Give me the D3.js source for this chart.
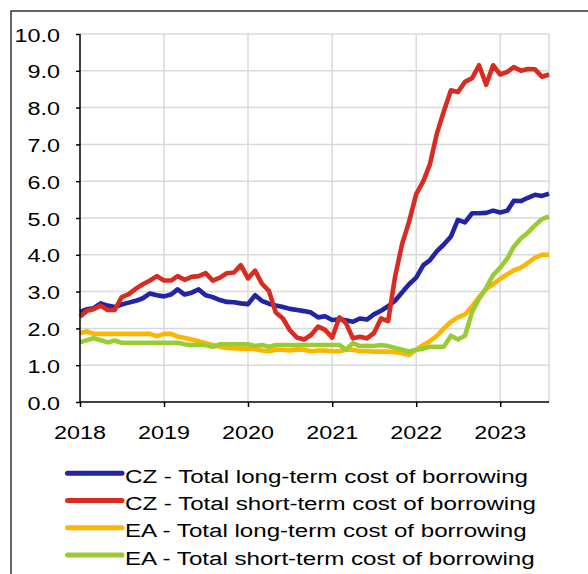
<!DOCTYPE html>
<html>
<head>
<meta charset="utf-8">
<script src="https://cdn.jsdelivr.net/npm/d3@7"></script>
<style>
  html, body { margin: 0; padding: 0; background: #fff; }
  svg { display: block; }
  text { font-family: "Liberation Sans", Arial, sans-serif; fill: #000; }
</style>
</head>
<body>
<svg id="chart" width="588" height="574"></svg>
<script>
// ---- data (monthly, Jan 2018 – Aug 2023) ----
const startMonth = new Date(2018, 0, 1);
const endMonth = new Date(2023, 7, 1);
const yearLabels = ["2018", "2019", "2020", "2021", "2022", "2023"];
const yTicks = [0, 1, 2, 3, 4, 5, 6, 7, 8, 9, 10];

const seriesNames = [
  "CZ - Total long-term cost of borrowing",
  "CZ - Total short-term cost of borrowing",
  "EA - Total long-term cost of borrowing",
  "EA - Total short-term cost of borrowing"
];
const seriesColors = ["#2323A6", "#D92B20", "#FFB400", "#99CC33"];

const czLong = [
  2.45, 2.52, 2.55, 2.68, 2.62, 2.58, 2.65, 2.7, 2.75, 2.82,
  2.95, 2.9, 2.87, 2.92, 3.06, 2.92, 2.97, 3.06, 2.9, 2.85,
  2.77, 2.72, 2.71, 2.68, 2.66, 2.9, 2.75, 2.67, 2.62, 2.58,
  2.53, 2.5, 2.47, 2.43, 2.3, 2.33, 2.23, 2.25, 2.22, 2.18,
  2.27, 2.24, 2.38, 2.48, 2.6, 2.75, 2.98, 3.2, 3.38, 3.72,
  3.85, 4.1, 4.28, 4.5, 4.95, 4.88, 5.13, 5.13, 5.14, 5.2,
  5.15, 5.2, 5.47, 5.46, 5.55, 5.63, 5.6, 5.66
];
const czShort = [
  2.32, 2.48, 2.52, 2.62, 2.5, 2.5, 2.85, 2.93, 3.08, 3.2,
  3.3, 3.42, 3.3, 3.3, 3.42, 3.32, 3.4, 3.42, 3.5, 3.3,
  3.38, 3.5, 3.52, 3.72, 3.36, 3.57, 3.22, 3.02, 2.43, 2.27,
  1.95, 1.75, 1.7, 1.82, 2.05, 1.96, 1.75, 2.3, 2.15, 1.73,
  1.77, 1.73, 1.87, 2.27, 2.2, 3.4, 4.3, 4.9, 5.65, 6.0,
  6.45, 7.3, 7.9, 8.47, 8.42, 8.7, 8.8, 9.15, 8.62, 9.15,
  8.9, 8.97, 9.1, 9.0, 9.05, 9.04, 8.84, 8.9
];
const eaLong = [
  1.87, 1.92, 1.85, 1.85, 1.85, 1.85, 1.85, 1.85, 1.85, 1.85,
  1.85, 1.79, 1.85, 1.85, 1.78, 1.74, 1.7, 1.65, 1.6, 1.55,
  1.5, 1.47, 1.46, 1.45, 1.45, 1.44, 1.4, 1.38, 1.42, 1.42,
  1.4, 1.43, 1.42, 1.38, 1.4, 1.4, 1.38, 1.38, 1.42, 1.42,
  1.38, 1.38, 1.37, 1.37, 1.37, 1.35, 1.33, 1.28, 1.42, 1.55,
  1.65, 1.8, 2.0, 2.18, 2.3, 2.38, 2.6, 2.85, 3.07, 3.2,
  3.35, 3.47, 3.58, 3.65, 3.78, 3.92, 4.0, 4.0
];
const eaShort = [
  1.62, 1.68, 1.73, 1.68, 1.62, 1.67, 1.61, 1.61, 1.61, 1.61,
  1.61, 1.61, 1.61, 1.61, 1.61, 1.57, 1.55, 1.55, 1.55, 1.5,
  1.57, 1.57, 1.57, 1.57, 1.57, 1.52, 1.55, 1.5, 1.55, 1.55,
  1.55, 1.55, 1.55, 1.55, 1.55, 1.55, 1.55, 1.55, 1.42, 1.6,
  1.52, 1.53, 1.52, 1.55, 1.52, 1.47, 1.42, 1.37, 1.42, 1.45,
  1.5, 1.5, 1.5, 1.8, 1.7, 1.8, 2.45, 2.8, 3.1, 3.45,
  3.65, 3.9, 4.22, 4.45, 4.6, 4.8, 4.97, 5.04
];

const allSeries = [czLong, czShort, eaLong, eaShort];
const months = d3.timeMonth.range(startMonth, d3.timeMonth.offset(endMonth, 1));

// ---- layout ----
const svg = d3.select("#chart");
const plot = { left: 80, right: 549, top: 34, bottom: 402 };
const fontSize = 18.7, sx = 1.25;
const legendFont = 19, legendSx = 1.27;

const x = d3.scaleTime().domain([startMonth, endMonth]).range([plot.left, plot.right]);
const y = d3.scaleLinear().domain([0, 10]).range([plot.bottom, plot.top]);

// outer frame
svg.append("rect")
  .attr("x", 11).attr("y", 11).attr("width", 700).attr("height", 700)
  .attr("fill", "none").attr("stroke", "#000").attr("stroke-width", 1.2);

// gridlines
const grid = svg.append("g");
grid.selectAll("line.h").data(yTicks.filter(d => d > 0)).join("line")
  .attr("x1", plot.left).attr("x2", plot.right)
  .attr("y1", d => y(d)).attr("y2", d => y(d))
  .attr("stroke", "#D9D9D9").attr("stroke-width", 1.5);
const yearDates = yearLabels.map(s => new Date(+s, 0, 1));
grid.selectAll("line.v").data(yearDates.slice(1).concat([endMonth])).join("line")
  .attr("x1", d => x(d)).attr("x2", d => x(d))
  .attr("y1", plot.top).attr("y2", plot.bottom)
  .attr("stroke", "#D9D9D9").attr("stroke-width", 1.5);

// lines
const line = d3.line().x((d, i) => x(months[i])).y(d => y(d)).curve(d3.curveLinear);
allSeries.forEach((s, k) => {
  svg.append("path").datum(s)
    .attr("d", line)
    .attr("fill", "none")
    .attr("stroke", seriesColors[k])
    .attr("stroke-width", 4.6)
    .attr("stroke-linejoin", "round")
    .attr("stroke-linecap", "butt");
});

// axes
const yAxis = svg.append("g").attr("transform", `translate(${plot.left},0)`)
  .call(d3.axisLeft(y).tickValues(yTicks).tickSize(4).tickFormat(""));
yAxis.select(".domain").attr("stroke", "#000").attr("stroke-width", 1.5)
  .attr("d", `M0,${plot.top}V${plot.bottom}`);
yAxis.selectAll(".tick line").attr("stroke", "#000").attr("stroke-width", 1.5);

const xAxis = svg.append("g").attr("transform", `translate(0,${plot.bottom})`)
  .call(d3.axisBottom(x).tickValues(yearDates).tickSize(5).tickFormat(""));
xAxis.select(".domain").attr("stroke", "#000").attr("stroke-width", 1.5)
  .attr("d", `M${plot.left},0H${plot.right}`);
xAxis.selectAll(".tick line").attr("stroke", "#000").attr("stroke-width", 1.5);

// y tick labels
svg.append("g").selectAll("text").data(yTicks).join("text")
  .attr("transform", d => `translate(60,${y(d) + 7.6}) scale(${sx},1)`)
  .attr("text-anchor", "end")
  .attr("font-size", fontSize)
  .text(d => d.toFixed(1));

// x tick labels
svg.append("g").selectAll("text").data(yearLabels).join("text")
  .attr("transform", (d, i) => `translate(${x(yearDates[i])},439) scale(${sx},1)`)
  .attr("text-anchor", "middle")
  .attr("font-size", fontSize)
  .text(d => d);

// legend
const legendY = [473.3, 500.5, 527.8, 555];
const lg = svg.append("g");
seriesNames.forEach((name, k) => {
  lg.append("line")
    .attr("x1", 67.5).attr("x2", 122)
    .attr("y1", legendY[k]).attr("y2", legendY[k])
    .attr("stroke", seriesColors[k]).attr("stroke-width", 5)
    .attr("stroke-linecap", "round");
  lg.append("text")
    .attr("transform", `translate(125,${legendY[k] + 9.5}) scale(${legendSx},1)`)
    .attr("font-size", legendFont)
    .text(name);
});
</script>
</body>
</html>
